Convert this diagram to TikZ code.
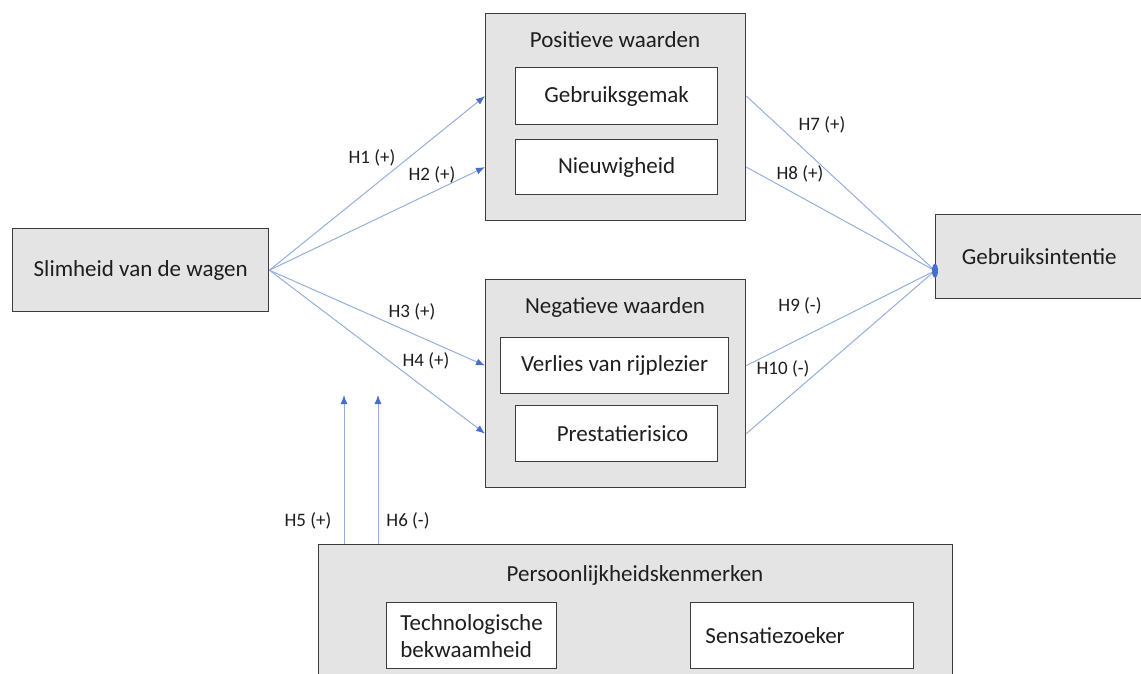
\documentclass[tikz,border=0pt]{standalone}
\usepackage{fontspec}
\setmainfont{Carlito}
\usetikzlibrary{arrows.meta}
\definecolor{boxgray}{RGB}{228,228,228}
\definecolor{edgegray}{RGB}{60,60,60}
\definecolor{linkblue}{RGB}{150,175,220}
\definecolor{tipblue}{RGB}{70,110,205}
\definecolor{textdark}{RGB}{30,30,30}
\tikzset{
  x=1pt, y=-1pt,
  outerbox/.style={draw=edgegray, line width=1.4pt, fill=boxgray, anchor=north west, inner sep=0pt, text=textdark},
  innerbox/.style={draw=edgegray, line width=1.2pt, fill=white, anchor=north west, inner sep=0pt, align=center, text=textdark, font=\fontsize{23}{27}\selectfont},
  title/.style={font=\fontsize{23}{27}\selectfont, inner sep=0pt, text=textdark},
  link/.style={draw=linkblue, line width=1pt, -{Latex[length=9pt,width=7pt,color=tipblue]}},
  plain/.style={draw=linkblue, line width=1pt},
  hlabel/.style={font=\fontsize{19}{22}\selectfont, inner sep=0pt, text=textdark},
}
\begin{document}
\begin{tikzpicture}
\clip (0,0) rectangle (1141,674);
\fill[white] (0,0) rectangle (1141,674);
% left source
\node[outerbox, minimum width=256pt, minimum height=83pt, font=\fontsize{23}{27}\selectfont] (slim) at (12,228) {Slimheid van de wagen};
% positive
\node[outerbox, minimum width=260pt, minimum height=207pt] (pos) at (485,13) {};
\node[title] (postitle) at (615,40) {Positieve waarden};
\node[innerbox, minimum width=202pt, minimum height=57pt] (gem) at (515,67) {Gebruiksgemak};
\node[innerbox, minimum width=202pt, minimum height=55pt] (nieuw) at (515,139) {Nieuwigheid};
% negative
\node[outerbox, minimum width=260pt, minimum height=208pt] (neg) at (485,279) {};
\node[title] (negtitle) at (615,307) {Negatieve waarden};
\node[innerbox, minimum width=228pt, minimum height=56pt] (verlies) at (500,337) {Verlies van rijplezier};
\node[innerbox, minimum width=202pt, minimum height=56pt] (prest) at (515,405) {\hspace*{12pt}Prestatierisico};
% outcome
\node[outerbox, minimum width=215pt, minimum height=84pt, font=\fontsize{23}{27}\selectfont] (intent) at (935,214) {\hspace*{-8pt}Gebruiksintentie};
% personality
\node[outerbox, minimum width=634pt, minimum height=160pt] (pers) at (318,544) {};
\node[title] (perstitle) at (635,575) {Persoonlijkheidskenmerken};
\node[innerbox, minimum width=170pt, minimum height=66pt, align=left] (tech) at (386,602) {Technologische\\bekwaamheid};
\node[innerbox, minimum width=223pt, minimum height=66pt] (sens) at (690,602) {Sensatiezoeker\hspace*{54pt}};
% connectors from Slimheid
\coordinate (src) at (slim.east);
\draw[link] (src) -- (pos.west |- gem.west);
\draw[link] (src) -- (pos.west |- nieuw.west);
\draw[link] (src) -- (neg.west |- verlies.west);
\draw[link] (src) -- (neg.west |- prest.west);
% connectors to Gebruiksintentie
\coordinate (dst) at ([yshift=-14pt]intent.west);
\draw[plain] (pos.east |- gem.west) -- (dst);
\draw[plain] (pos.east |- nieuw.west) -- (dst);
\draw[plain] (neg.east |- verlies.west) -- (dst);
\draw[plain] (neg.east |- prest.west) -- (dst);
\fill[tipblue] (dst) ellipse (3pt and 7pt);
% moderators
\coordinate (m5s) at (344,544);
\coordinate (m5e) at (344,395);
\coordinate (m6s) at (378,544);
\coordinate (m6e) at (378,395);
\draw[link] (m5s) -- (m5e);
\draw[link] (m6s) -- (m6e);
% labels
\node[hlabel] (l1) at (372,158) {H1 (+)};
\node[hlabel] (l2) at (432,175) {H2 (+)};
\node[hlabel] (l3) at (412,312) {H3 (+)};
\node[hlabel] (l4) at (426,361) {H4 (+)};
\node[hlabel] (l5) at (308,521) {H5 (+)};
\node[hlabel] (l6) at (408,521) {H6 (-)};
\node[hlabel] (l7) at (822,125) {H7 (+)};
\node[hlabel] (l8) at (800,174) {H8 (+)};
\node[hlabel] (l9) at (800,306) {H9 (-)};
\node[hlabel] (l10) at (783,369) {H10 (-)};
\end{tikzpicture}
\end{document}
